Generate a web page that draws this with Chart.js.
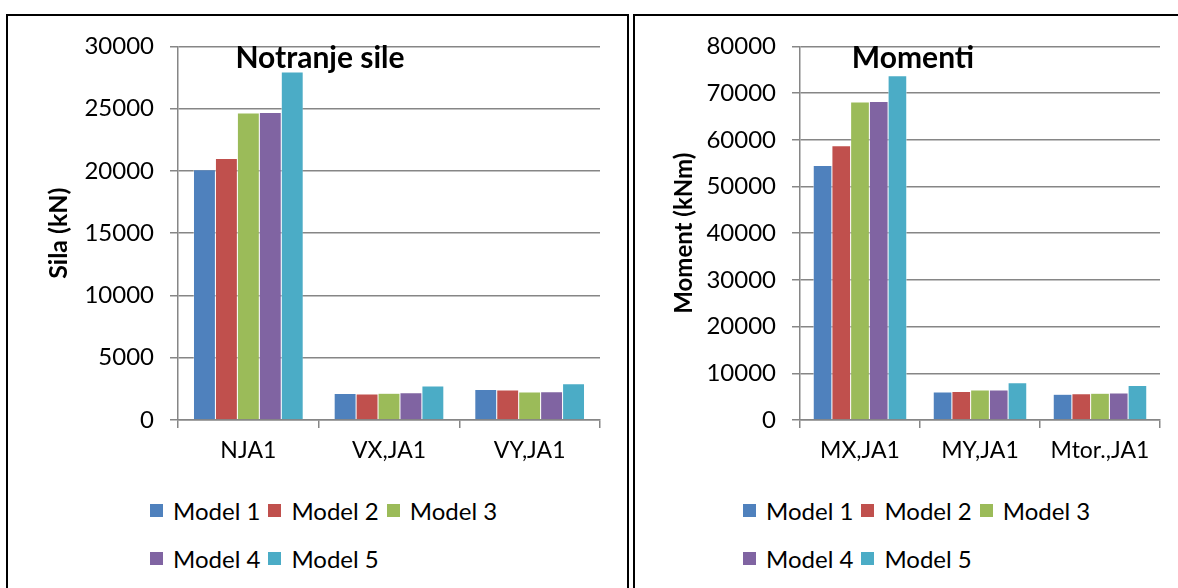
<!DOCTYPE html>
<html>
<head>
<meta charset="utf-8">
<script src="https://cdn.jsdelivr.net/npm/chart.js@4/dist/chart.umd.min.js"></script>
<style>
  body { margin: 0; background: #fff; font-family: Lato, sans-serif; }
  .panel { position: absolute; border: 2px solid #000; box-sizing: border-box; }
  canvas { position: absolute; }
  .ctitle { position: absolute; font: bold 30px Lato, sans-serif; color: #000; transform: translate(-50%, -50%); white-space: nowrap; }
  .legend { position: absolute; font: 24px Lato, sans-serif; color: #000; }
  .legend .row { height: 48px; display: flex; align-items: center; }
  .legend .item { display: flex; align-items: center; margin-right: 8px; }
  .legend .box { width: 13px; height: 13px; margin-right: 10px; }
</style>
</head>
<body>
<div class="panel" style="left:6px;top:14px;width:623px;height:590px"></div>
<div class="panel" style="left:633px;top:14px;width:560px;height:590px"></div>

<canvas id="forceChart" width="618" height="460" style="left:8px;top:16px"></canvas>
<canvas id="momentChart" width="540" height="460" style="left:636px;top:16px"></canvas>

<div class="ctitle" style="left:320px;top:56px">Notranje sile</div>
<div class="ctitle" style="left:913px;top:56px">Momenti</div>

<div class="legend" id="forceLegend" style="left:150px;top:486px"></div>
<div class="legend" id="momentLegend" style="left:743px;top:486px"></div>

<script>
// Data
var models = ['Model 1', 'Model 2', 'Model 3', 'Model 4', 'Model 5'];
var colors = ['#4F81BD', '#C0504D', '#9BBB59', '#8064A2', '#4BACC6'];

var force_labels = ['NJA1', 'VX,JA1', 'VY,JA1'];
var force_m1 = [20100, 2120, 2440];
var force_m2 = [21000, 2080, 2400];
var force_m3 = [24650, 2150, 2240];
var force_m4 = [24700, 2180, 2260];
var force_m5 = [27950, 2740, 2920];

var moment_labels = ['MX,JA1', 'MY,JA1', 'Mtor.,JA1'];
var moment_m1 = [54500, 6000, 5530];
var moment_m2 = [58700, 6100, 5600];
var moment_m3 = [68100, 6400, 5750];
var moment_m4 = [68200, 6450, 5780];
var moment_m5 = [73700, 7950, 7380];

var gridGray = '#868686';

function makeDatasets(series) {
    return series.map(function (vals, i) {
        return {
            label: models[i],
            data: vals,
            backgroundColor: colors[i],
            borderColor: '#ffffff',
            borderWidth: 0.5,
            categoryPercentage: 0.78,
            barPercentage: 1.0
        };
    });
}

function makeChart(id, labels, series, maxY, stepY, yTitle, opts) {
    var ctx = document.getElementById(id).getContext('2d');
    return new Chart(ctx, {
        type: 'bar',
        data: {
            labels: labels,
            datasets: makeDatasets(series)
        },
        options: {
            responsive: false,
            animation: false,
            layout: {
                padding: { top: 28, right: opts.padRight, left: 0, bottom: 0 }
            },
            scales: {
                x: {
                    grid: {
                        offset: true,
                        drawOnChartArea: false,
                        drawTicks: true,
                        tickLength: 8,
                        color: gridGray,
                        lineWidth: 1.5
                    },
                    border: { display: true, color: gridGray, width: 1.5 },
                    ticks: {
                        color: '#000',
                        font: { family: 'Lato', size: 23 },
                        padding: 9,
                        maxRotation: 0
                    },
                    afterFit: function (scale) { scale.height = 56; }
                },
                y: {
                    min: 0,
                    max: maxY,
                    grid: {
                        color: gridGray,
                        lineWidth: 1.5,
                        drawTicks: true,
                        tickLength: 8
                    },
                    border: { display: true, color: gridGray, width: 1.5 },
                    ticks: {
                        stepSize: stepY,
                        color: '#000',
                        font: { family: 'Lato', size: 24 },
                        padding: opts.tickPad,
                        callback: function (v) { return String(v); }
                    },
                    title: {
                        display: true,
                        text: yTitle,
                        color: '#000',
                        font: { family: 'Lato', size: opts.titleSize, weight: 'bold' },
                        padding: { top: opts.titlePad, bottom: 0 }
                    },
                    afterFit: function (scale) { scale.width = opts.axisX; }
                }
            },
            plugins: {
                title: { display: false },
                legend: { display: false },
                tooltip: { enabled: false }
            }
        }
    });
}

function buildLegend(id) {
    var el = document.getElementById(id);
    var rows = [[0, 1, 2], [3, 4]];
    rows.forEach(function (r) {
        var row = document.createElement('div');
        row.className = 'row';
        r.forEach(function (i) {
            var item = document.createElement('div');
            item.className = 'item';
            var box = document.createElement('span');
            box.className = 'box';
            box.style.background = colors[i];
            item.appendChild(box);
            item.appendChild(document.createTextNode(models[i]));
            row.appendChild(item);
        });
        el.appendChild(row);
    });
}

var forceChart = makeChart('forceChart', force_labels,
    [force_m1, force_m2, force_m3, force_m4, force_m5],
    30000, 5000, 'Sila (kN)',
    { padRight: 26, axisX: 170, tickPad: 16, titlePad: 36, titleSize: 25 });

var momentChart = makeChart('momentChart', moment_labels,
    [moment_m1, moment_m2, moment_m3, moment_m4, moment_m5],
    80000, 10000, 'Moment (kNm)',
    { padRight: 16, axisX: 164, tickPad: 16, titlePad: 34, titleSize: 24 });

buildLegend('forceLegend');
buildLegend('momentLegend');
</script>
</body>
</html>
